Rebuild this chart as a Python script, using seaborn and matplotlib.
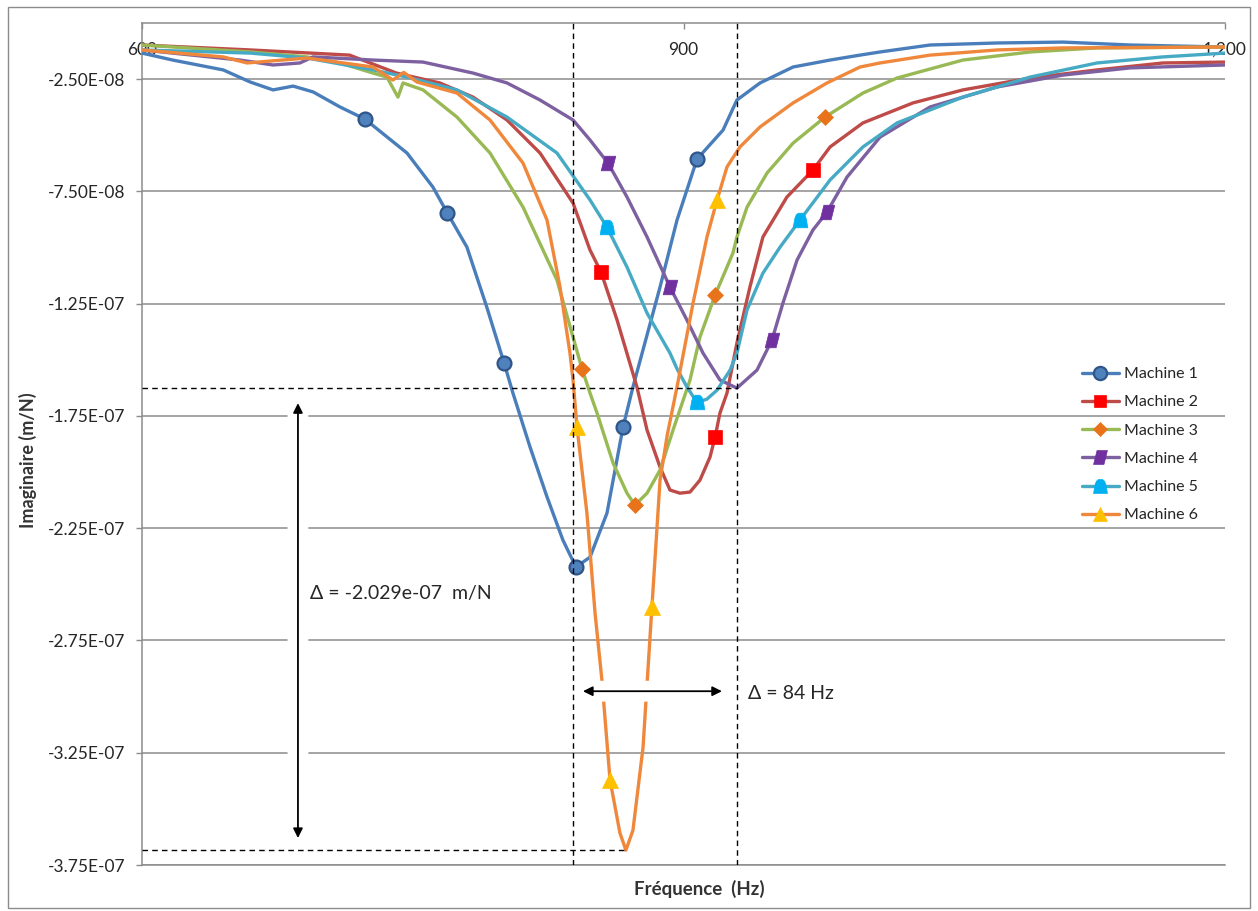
import numpy as np
import pandas as pd
import matplotlib
matplotlib.use("Agg")
import matplotlib.pyplot as plt
import seaborn as sns
from matplotlib.lines import Line2D
from matplotlib.patches import Rectangle

# ---------------- data (imaginary part in 1e-9 m/N, frequency in Hz) ----------------
machines = ["Machine 1", "Machine 2", "Machine 3", "Machine 4", "Machine 5", "Machine 6"]

m1_freq = [600, 617, 645, 660, 672.6, 683.7, 694.8, 709.7, 723.5, 746.8, 761.2, 769.0, 780.0, 791.0,
           800.6, 805.5, 815.0, 824.4, 833.2, 840.4, 848.2, 857.6, 866.5, 872.0, 887.0, 896.4, 907.5,
           921.9, 929.6, 942.4, 960.7, 981.2, 997.8, 1008.9, 1036.6, 1073.7, 1110.2, 1147.4, 1200]
m1_imag = [-13.4, -16.5, -20.9, -26.3, -29.8, -28.1, -30.7, -37.4, -42.8, -57.9, -73.1, -84.4, -99.8,
           -126.5, -151.4, -164.8, -188.9, -211.1, -230.3, -242.3, -237.9, -218.3, -180.0, -162.1,
           -117.6, -87.8, -60.6, -47.7, -34.3, -26.7, -19.6, -16.5, -14.3, -12.9, -9.8, -8.9, -8.5,
           -9.8, -10.7]
m1_marks = [723.5, 769.0, 800.6, 840.4, 866.5, 907.5]

m2_freq = [600, 660, 715, 741, 765, 783.4, 802.2, 820.5, 838.8, 848.2, 854.3, 863.2, 874.2, 879.8,
           887.0, 892.5, 898.0, 903.6, 909.1, 914.7, 917.5, 920.2, 924.1, 929.6, 936.8, 944.0, 957.3,
           971.7, 981.2, 999.4, 1027.1, 1054.8, 1092.0, 1129.1, 1165.7, 1200]
m2_imag = [-9.8, -12.0, -14.3, -22.3, -26.7, -33.0, -43.2, -57.9, -80.2, -101.1, -110.9, -132.3,
           -162.1, -181.3, -197.8, -208.0, -209.4, -208.9, -203.6, -193.3, -184.4, -173.7, -164.8,
           -142.5, -117.6, -95.3, -77.5, -65.5, -55.2, -44.5, -35.6, -29.8, -24.5, -20.9, -17.8, -17.4]
m2_marks = [854.3, 917.5, 971.7]

m3_freq = [600, 660, 691.4, 709.7, 728, 735.7, 741.8, 744.6, 755.7, 774.5, 792.8, 811.1, 829.9,
           838.8, 843.8, 848.2, 852.1, 861.0, 868.7, 873.1, 879.8, 887.0, 894.2, 903.6, 909.1, 917.5,
           924.1, 927.4, 929.6, 935.2, 946.3, 960.7, 978.4, 999.4, 1018.3, 1054.8, 1092.0, 1129.1, 1200]
m3_imag = [-9.8, -12.9, -15.1, -17.8, -22.3, -24.1, -33.0, -26.7, -29.8, -41.9, -57.9, -82.0, -114.5,
           -139.9, -154.1, -164.8, -173.7, -196.0, -209.4, -214.7, -209.4, -199.1, -181.3, -159.0,
           -139.9, -121.2, -108.7, -102.4, -95.3, -82.0, -66.8, -53.5, -41.9, -31.2, -24.5, -16.5,
           -12.9, -11.1, -10.7]
m3_marks = [843.8, 873.1, 917.5, 978.4]

m4_freq = [600, 654.3, 672.6, 687.5, 694.7, 728, 755.7, 783.4, 802.2, 820.5, 838.8, 848.2, 858.2,
           868.7, 879.8, 892.5, 901.9, 910.8, 920.2, 929.6, 940.7, 949.0, 955.1, 962.9, 971.7, 979.5,
           990.6, 1008.9, 1036.6, 1073.7, 1110.2, 1147.4, 1200]
m4_imag = [-12.0, -16.5, -18.7, -17.8, -15.1, -16.5, -17.4, -22.3, -26.7, -34.3, -43.2, -52.1, -62.4,
           -77.5, -95.3, -117.6, -132.3, -147.0, -159.0, -162.6, -154.6, -141.2, -124.7, -105.6, -92.2,
           -84.2, -68.6, -50.8, -37.4, -28.5, -23.2, -20.0, -18.7]
m4_marks = [858.2, 892.5, 949.0, 979.5]

m5_freq = [600, 660, 691.4, 728, 746.8, 774.5, 802.2, 829.9, 848.2, 857.6, 868.7, 879.8, 892.5,
           896.4, 901.9, 907.5, 913.0, 918.6, 925.8, 929.6, 935.2, 944.0, 953.5, 964.5, 981.2, 999.4,
           1018.3, 1054.8, 1092.0, 1129.1, 1165.7, 1200]
m5_imag = [-12.0, -13.4, -15.6, -20.9, -24.1, -29.8, -41.9, -57.9, -78.8, -90.9, -108.7, -129.2,
           -147.0, -154.0, -162.1, -169.0, -167.5, -163.5, -154.6, -147.0, -127.8, -111.4, -99.8,
           -87.8, -69.9, -55.2, -44.5, -33.0, -24.1, -17.8, -15.1, -13.4]
m5_marks = [857.6, 907.5, 964.5]

m6_freq = [600, 645, 658.2, 691.4, 728, 739, 745, 752.4, 774.5, 792.8, 811.1, 824.4, 831.6, 837.1,
           838.8, 841.0, 846.5, 851.0, 854.8, 859.3, 864.8, 868.1, 872.0, 877.6, 882.5, 887.0, 891.0,
           896.4, 905.3, 913.0, 918.6, 924.1, 931.3, 942.4, 960.7, 979.5, 997.8, 1008.9, 1036.6,
           1073.7, 1110.2, 1200]
m6_imag = [-12.0, -15.1, -17.8, -15.6, -19.6, -25.4, -22.0, -26.3, -31.2, -43.2, -62.4, -87.8,
           -117.6, -147.0, -159.0, -180.0, -218.3, -262.8, -292.7, -337.2, -360.8, -368.4, -359.5,
           -322.5, -260.1, -203.6, -183.5, -162.1, -124.7, -95.3, -78.8, -64.1, -55.2, -46.3, -35.6,
           -26.7, -19.6, -17.8, -14.3, -12.0, -11.1, -10.7]
m6_marks = [841.0, 859.3, 882.5, 918.6]

ytick_values = [-3.75e-07, -3.25e-07, -2.75e-07, -2.25e-07, -1.75e-07, -1.25e-07, -7.5e-08, -2.5e-08]
ytick_labels = ["-3.75E-07", "-3.25E-07", "-2.75E-07", "-2.25E-07", "-1.75E-07", "-1.25E-07",
                "-7.50E-08", "-2.50E-08"]
xtick_values = [600, 900, 1200]
xtick_labels = ["600", "900", "1,200"]

# annotation values
f_low, f_high = 838.8, 929.6          # vertical dashed lines (Hz)
v_peak, v_min = -162.6e-9, -368.4e-9  # horizontal dashed lines (m/N)
delta_v_text = "Δ = -2.029e-07  m/N"
delta_f_text = "Δ = 84 Hz"

# ---------------- styling ----------------
sns.set_theme(style="white")
plt.rcParams["font.family"] = ["Lato", "DejaVu Sans"]

para = [(-1, -1), (0.5, -1), (1, 1), (-0.5, 1), (-1, -1)]
bell = [(-1, -1), (1, -1), (0.8, 0.2), (0.6, 0.75), (0.3, 1), (-0.3, 1), (-0.6, 0.75),
        (-0.8, 0.2), (-1, -1)]

styles = {
    "Machine 1": dict(color="#4A7EBB", marker="o", mfc="#4F81BD", mec="#2F5589", ms=10, mew=1.6),
    "Machine 2": dict(color="#BE4B48", marker="s", mfc="#FF0000", mec="#FF0000", ms=9.5, mew=0.5),
    "Machine 3": dict(color="#98B954", marker="D", mfc="#E8731A", mec="#E8731A", ms=8, mew=0.5),
    "Machine 4": dict(color="#7D60A0", marker=para, mfc="#7030A0", mec="#7030A0", ms=10.5, mew=0.5),
    "Machine 5": dict(color="#46AAC5", marker=bell, mfc="#00B0F0", mec="#00B0F0", ms=10.5, mew=0.5),
    "Machine 6": dict(color="#F0883C", marker="^", mfc="#FFC000", mec="#FFC000", ms=11, mew=0.5),
}

series = {
    "Machine 1": (m1_freq, m1_imag, m1_marks),
    "Machine 2": (m2_freq, m2_imag, m2_marks),
    "Machine 3": (m3_freq, m3_imag, m3_marks),
    "Machine 4": (m4_freq, m4_imag, m4_marks),
    "Machine 5": (m5_freq, m5_imag, m5_marks),
    "Machine 6": (m6_freq, m6_imag, m6_marks),
}

W, H = 1258, 911
fig = plt.figure(figsize=(W / 100, H / 100), dpi=100)
ax = fig.add_axes([142 / W, 1 - 865 / H, (1225 - 142) / W, (865 - 23) / H])

LW = 2.4
for name in machines:
    fr, im, mk = series[name]
    df = pd.DataFrame({"freq": fr, "imag": np.array(im) * 1e-9})
    idx = [int(np.argmin(np.abs(np.array(fr) - m))) for m in mk]
    st = styles[name]
    sns.lineplot(data=df, x="freq", y="imag", ax=ax, color=st["color"], lw=LW,
                 errorbar=None, sort=True, marker=st["marker"], markevery=idx,
                 markersize=st["ms"], markerfacecolor=st["mfc"], markeredgecolor=st["mec"],
                 markeredgewidth=st["mew"], zorder=3, legend=False)

ax.set_xlim(600, 1200)
ax.set_ylim(-3.75e-7, 0)
ax.set_xlabel("")
ax.set_ylabel("")

ax.set_yticks(ytick_values)
ax.set_yticklabels(ytick_labels)
ax.set_xticks(xtick_values)
ax.set_xticklabels(xtick_labels)

gridc = "#8C8C8C"
ax.yaxis.grid(True, color=gridc, lw=1.1, zorder=0)
ax.xaxis.grid(False)
ax.set_axisbelow(True)
for s in ["left", "top", "bottom"]:
    ax.spines[s].set_color(gridc)
    ax.spines[s].set_linewidth(1.1)
ax.spines["right"].set_visible(False)

ax.tick_params(axis="y", left=True, length=4, width=1, color=gridc, labelsize=12.5,
               labelcolor="#262626", pad=8)
ax.xaxis.set_ticks_position("top")
ax.tick_params(axis="x", top=True, bottom=False, labeltop=True, labelbottom=False,
               direction="in", length=4, width=1, color=gridc, labelsize=12.5,
               labelcolor="#262626", pad=-25)

# dashed reference lines
dash = (0, (4, 3))
for f in (f_low, f_high):
    ax.axvline(f, color="black", lw=1.0, ls=dash, zorder=4)
ax.hlines(v_peak, 600, f_high, color="black", lw=1.0, linestyles=dash, zorder=4)
ax.hlines(v_min, 600, 868.1, color="black", lw=1.0, linestyles=dash, zorder=4)

# arrows, each over a white band that interrupts what lies beneath
arrows = [((686.4, -169.3e-9), (686.4, -363e-9)), ((844.3, -297.6e-9), (921.3, -297.6e-9))]
for (p0, p1) in arrows:
    ax.annotate("", xy=p1, xytext=p0,
                arrowprops=dict(arrowstyle="-", color="white", lw=15, shrinkA=0, shrinkB=0),
                zorder=3.5)
    ax.annotate("", xy=p1, xytext=p0,
                arrowprops=dict(arrowstyle="<|-|>", color="black", lw=1.3,
                                mutation_scale=14, shrinkA=0, shrinkB=0), zorder=5)

ax.text(693.0, -253.9e-9, delta_v_text, fontsize=14, color="#262626", ha="left", va="center",
        zorder=6)
ax.text(935.7, -298.5e-9, delta_f_text, fontsize=14, color="#262626", ha="left", va="center",
        zorder=6)

# legend
handles = []
for name in machines:
    st = styles[name]
    handles.append(Line2D([0], [0], color=st["color"], lw=LW, marker=st["marker"],
                          markersize=st["ms"] * 0.95, markerfacecolor=st["mfc"],
                          markeredgecolor=st["mec"], markeredgewidth=st["mew"]))
leg = fig.legend(handles, machines, loc="upper left", bbox_to_anchor=(1082 / W, 1 - 367 / H),
                 frameon=False, fontsize=11.5, handlelength=2.3, handletextpad=0.3,
                 labelspacing=0.88, borderpad=0, borderaxespad=0)
for t in leg.get_texts():
    t.set_color("#262626")

# axis titles
fig.text(28 / W, 1 - 460 / H, "Imaginaire (m/N)", rotation=90, ha="center", va="center",
         fontsize=13, fontweight="bold", color="#333333")
fig.text(699 / W, 1 - 889 / H, "Fréquence  (Hz)", ha="center", va="center",
         fontsize=13.5, fontweight="bold", color="#333333")

# outer chart border
fig.patches.append(Rectangle((8 / W, 1 - 908 / H), (1250 - 8) / W, (908 - 7) / H,
                             transform=fig.transFigure, fill=False, edgecolor="#8C8C8C", lw=1))

fig.savefig("out.png", dpi=100)
